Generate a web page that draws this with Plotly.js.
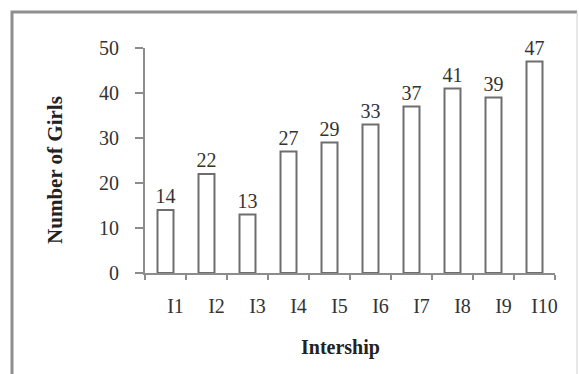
<!DOCTYPE html>
<html>
<head>
<meta charset="utf-8">
<script src="https://cdn.plot.ly/plotly-3.0.1.min.js"></script>
<style>html,body{margin:0;padding:0;background:#fff;}#chart{width:579px;height:374px;}</style>
</head>
<body>
<div id="chart"></div>
<script>
const categories = ["I1","I2","I3","I4","I5","I6","I7","I8","I9","I10"];
const girls = [14, 22, 13, 27, 29, 33, 37, 41, 39, 47];
const xTitle = "Intership";
const yTitle = "Number of Girls";

const serif = "Liberation Serif, Times New Roman, serif";
const trace = {
  type: "bar",
  x: categories,
  y: girls,
  text: girls.map(String),
  textposition: "outside",
  constraintext: "none",
  cliponaxis: false,
  textfont: {family: serif, size: 20, color: "#333"},
  marker: {color: "#ffffff", line: {color: "#6e6e6e", width: 2}},
  hoverinfo: "skip"
};

const layout = {
  width: 579, height: 374,
  margin: {l: 145, r: 24, t: 48, b: 101},
  paper_bgcolor: "#fff", plot_bgcolor: "#fff",
  showlegend: false,
  bargap: 0.61,
  font: {family: serif, color: "#333"},
  xaxis: {
    type: "category",
    tickson: "boundaries",
    ticks: "outside", ticklen: 5, tickwidth: 2, tickcolor: "#8c8c8c",
    showline: true, linecolor: "#8c8c8c", linewidth: 2,
    showgrid: false, zeroline: false,
    ticklabelshift: 10,
    ticklabelstandoff: 14,
    tickfont: {family: serif, size: 20, color: "#333"}
  },
  yaxis: {
    range: [0, 50], dtick: 10,
    ticks: "outside", ticklen: 8, tickwidth: 2, tickcolor: "#8c8c8c",
    showline: true, linecolor: "#8c8c8c", linewidth: 2,
    showgrid: false, zeroline: false,
    ticklabelstandoff: 12,
    tickfont: {family: serif, size: 20, color: "#333"}
  },
  annotations: [
    {text: xTitle, xref: "paper", yref: "paper", x: 0.478, y: -0.329,
     xanchor: "center", yanchor: "middle", showarrow: false,
     font: {family: serif, size: 20, color: "#222", weight: "bold"}},
    {text: yTitle, xref: "paper", yref: "paper", x: -0.2195, y: 0.458,
     xanchor: "center", yanchor: "middle", showarrow: false, textangle: -90,
     font: {family: serif, size: 21, color: "#222", weight: "bold"}}
  ],
  shapes: [
    {type: "path", xref: "paper", yref: "paper",
     path: "M -0.3244 -0.5 L -0.3244 1.16 L 1.0537 1.16",
     line: {color: "#8f8f8f", width: 3}},
    {type: "line", xref: "paper", yref: "paper",
     x0: 1.0537, x1: 1.0537, y0: 1.16, y1: -0.5,
     line: {color: "#d0d0d0", width: 1}}
  ]
};

Plotly.newPlot("chart", [trace], layout, {staticPlot: true, displayModeBar: false});
</script>
</body>
</html>
